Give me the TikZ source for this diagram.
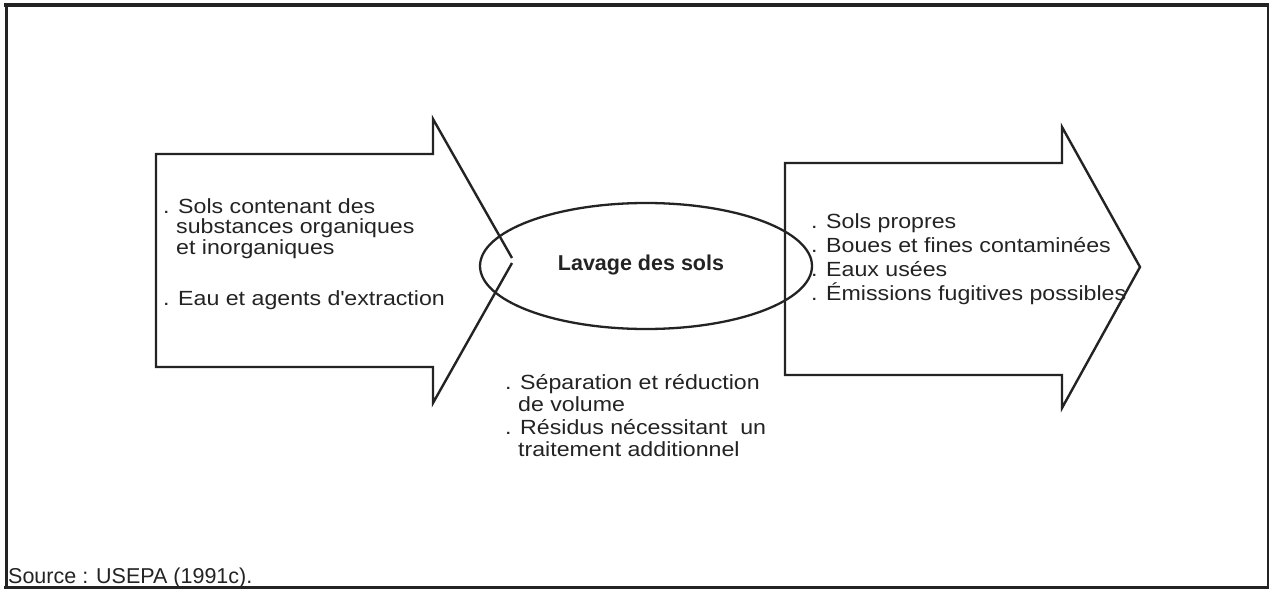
\documentclass[tikz,border=0pt]{standalone}
\usepackage{fontspec}
\setmainfont{Liberation Sans}[FakeStretch=1.13]
\newfontfamily\plainsans{Liberation Sans}
\usetikzlibrary{shapes.geometric}
\definecolor{ink}{RGB}{35,35,35}
\begin{document}
\begin{tikzpicture}[x=1pt,y=-1pt,
  txt/.style={anchor=base west, inner sep=0pt, text=ink, font=\fontsize{20.5}{24}\selectfont},
  outline/.style={draw=ink, line width=2.4pt, line join=miter},
  framel/.style={draw=ink}]
\useasboundingbox (0,0) rectangle (1271,591);
% frame
\draw[framel, line width=4pt] (4,5.5) -- (1269,5.5);
\draw[framel, line width=3pt] (6,4) -- (6,589);
\draw[framel, line width=1.5pt] (1268,4) -- (1268,589);
\draw[framel, line width=2.5pt] (4,587.5) -- (1269,587.5);
% left arrow
\coordinate (ltipa) at (512,258);
\coordinate (ltipb) at (512,263);
\draw[outline] (ltipa) -- (433,119) -- (433,154) -- (156,154) -- (156,367) -- (433,367) -- (433,403) -- (ltipb);
% right arrow
\draw[outline] (785,163) -- (1062,163) -- (1062,127) -- (1140,267) -- (1062,408) -- (1062,375) -- (785,375) -- cycle;
% ellipse
\node[ellipse, draw=ink, line width=2.3pt, minimum width=332pt, minimum height=126pt, inner sep=0pt] (wash) at (646,266) {};
\node[anchor=base, inner sep=0pt, text=ink, font=\plainsans\bfseries\fontsize{21.5}{24}\selectfont] (washlabel) at (641,270) {Lavage des sols};
% left texts
\node[txt] (in1) at (163,213) {. Sols contenant des};
\node[txt] (in2) at (176,233.7) {substances organiques};
\node[txt] (in3) at (176,254.4) {et inorganiques};
\node[txt] (in4) at (163,305) {. Eau et agents d\textquotesingle extraction};
% right texts
\node[txt] (out1) at (811,228.5) {. Sols propres};
\node[txt] (out2) at (811,252.5) {. Boues et fines contaminées};
\node[txt] (out3) at (811,276.5) {. Eaux usées};
\node[txt] (out4) at (811,300.5) {. Émissions fugitives possibles};
% bottom texts
\node[txt] (res1) at (505,389) {. Séparation et réduction};
\node[txt] (res2) at (518,411) {de volume};
\node[txt] (res3) at (505,434) {. Résidus nécessitant\ \ un};
\node[txt] (res4) at (518,456) {traitement additionnel};
% source
\node[anchor=base west, inner sep=0pt, text=ink, font=\plainsans\fontsize{21.5}{24}\selectfont] (src) at (8,583) {Source : USEPA (1991c).};
\end{tikzpicture}
\end{document}
